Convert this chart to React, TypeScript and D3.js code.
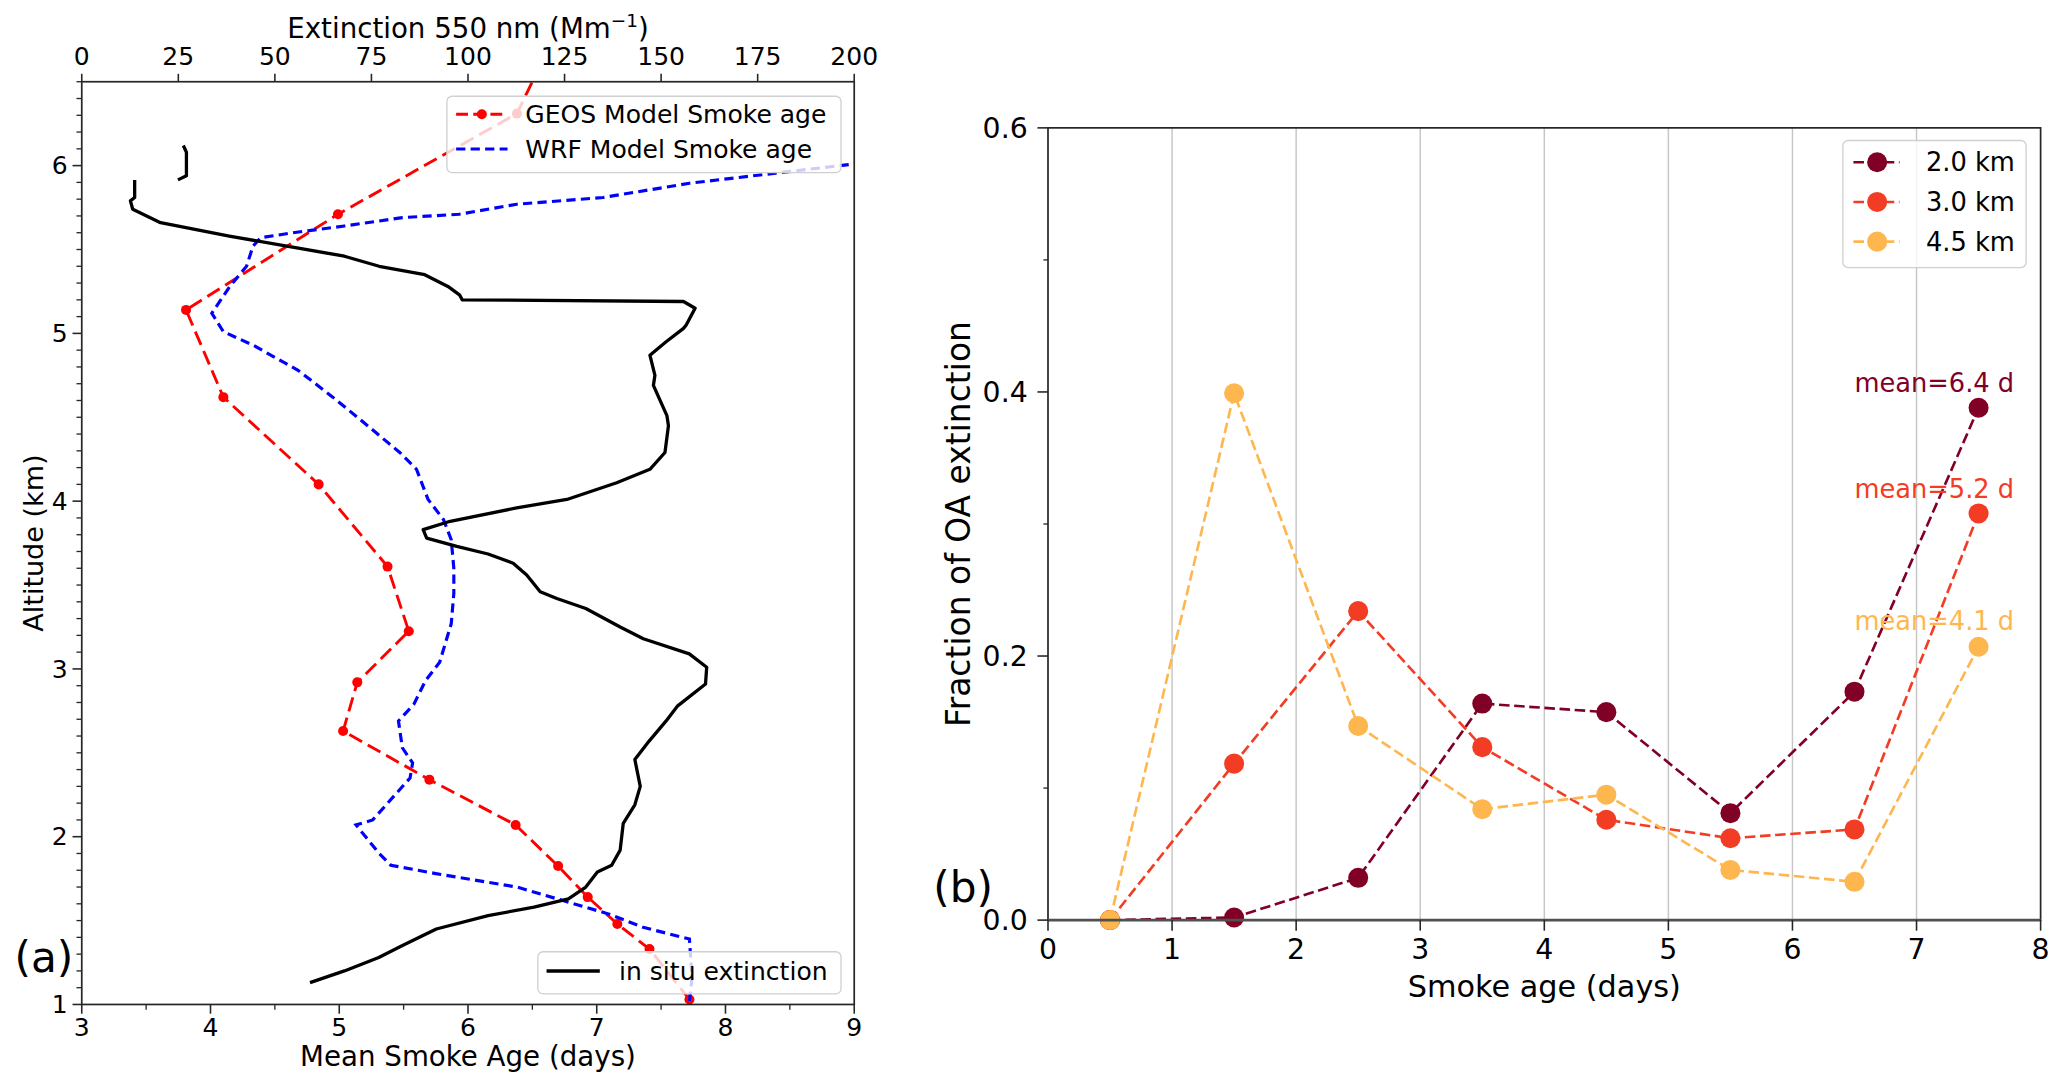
import React from "react";
import * as d3 from "d3";

// drawing units follow a 1568-wide copy of the figure, scaled up to 2067x1092
const W = 1568;
const H = 828.4;
const FONT = "DejaVu Sans, Verdana, sans-serif";

// ---- panel (a): vertical profiles ----
const geosAge = [7.72, 7.41, 7.16, 6.93, 6.7, 6.37, 5.7, 5.03, 5.14, 5.54, 5.375, 4.84, 4.1, 3.81, 4.99, 6.38, 6.75];
const geosAlt = [1.03, 1.33, 1.48, 1.64, 1.825, 2.07, 2.34, 2.63, 2.92, 3.225, 3.61, 4.1, 4.62, 5.14, 5.71, 6.31, 6.9];

const wrfAge = [9.4, 9.0, 8.39, 7.72, 7.05, 6.38, 5.93, 5.49, 5.04, 4.64, 4.39, 4.33, 4.28, 4.15, 4.01, 4.1, 4.33, 4.68, 4.95, 5.22, 5.47, 5.6, 5.69, 5.81, 5.87, 5.89, 5.89, 5.87, 5.78, 5.67, 5.58, 5.46, 5.49, 5.57, 5.55, 5.26, 5.13, 5.31, 5.4, 5.75, 6.38, 6.69, 7.09, 7.36, 7.72, 7.74, 7.72];
const wrfAlt = [6.07, 6.01, 5.955, 5.895, 5.81, 5.77, 5.71, 5.69, 5.64, 5.6, 5.57, 5.52, 5.4, 5.28, 5.12, 5.01, 4.93, 4.78, 4.62, 4.45, 4.29, 4.19, 4.01, 3.89, 3.77, 3.6, 3.45, 3.27, 3.04, 2.93, 2.79, 2.69, 2.53, 2.44, 2.35, 2.1, 2.07, 1.9, 1.83, 1.78, 1.7, 1.63, 1.54, 1.46, 1.39, 1.16, 1.02];

const insituExt = [13.7, 13.7, 12.6, 13.2, 20.4, 38.2, 53.1, 68, 77, 88.8, 94.8, 97.8, 98.5, 155.8, 158.8, 156.5, 155.8, 151.3, 147.1, 148.4, 148, 151.5, 151.9, 151, 147.1, 138.5, 125.6, 112.6, 95.4, 88.4, 89.3, 97.1, 105.2, 111.7, 115.2, 118.7, 123, 130.5, 139.4, 145.4, 157.3, 161.8, 161.5, 154.3, 151.3, 146.9, 143.2, 144.6, 143.2, 140.2, 139.4, 137.2, 133.5, 130.5, 126, 117.1, 105.2, 91.8, 82.9, 76.9, 68, 59.1];
const insituAlt = [5.915, 5.81, 5.79, 5.74, 5.66, 5.58, 5.52, 5.46, 5.4, 5.35, 5.28, 5.23, 5.2, 5.19, 5.15, 5.05, 5.03, 4.95, 4.87, 4.75, 4.69, 4.51, 4.45, 4.29, 4.19, 4.11, 4.01, 3.96, 3.88, 3.83, 3.78, 3.73, 3.685, 3.63, 3.56, 3.46, 3.42, 3.36, 3.25, 3.18, 3.09, 3.01, 2.91, 2.78, 2.69, 2.57, 2.46, 2.3, 2.19, 2.08, 1.92, 1.83, 1.79, 1.7, 1.63, 1.58, 1.53, 1.45, 1.35, 1.28, 1.2, 1.13];
const insituTopExt = [26.3, 27.1, 27.1, 24.9];
const insituTopAlt = [6.12, 6.08, 5.94, 5.915];

const ageTicksA = [3, 4, 5, 6, 7, 8, 9];
const extTicks = [0, 25, 50, 75, 100, 125, 150, 175, 200];
const altTicks = [1, 2, 3, 4, 5, 6];

// ---- panel (b): fraction of OA extinction vs smoke age ----
const smokeAge = [0.5, 1.5, 2.5, 3.5, 4.5, 5.5, 6.5, 7.5];
const levelNames = ["2.0 km", "3.0 km", "4.5 km"];
const levelColors = ["#800026", "#f33c24", "#feb74f"];
const frac2km = [0, 0.002, 0.032, 0.164, 0.1575, 0.081, 0.173, 0.388];
const frac3km = [0, 0.1185, 0.234, 0.131, 0.076, 0.062, 0.0687, 0.308];
const frac45km = [0, 0.399, 0.147, 0.084, 0.095, 0.038, 0.029, 0.207];
const meanLabels = ["mean=6.4 d", "mean=5.2 d", "mean=4.1 d"];
const meanLabelY = [0.4, 0.32, 0.22];
const ageTicksB = [0, 1, 2, 3, 4, 5, 6, 7, 8];
const fracTicks = [0, 0.2, 0.4, 0.6];

const A = { l: 62, r: 648, t: 62, b: 762 };
const B = { l: 795, r: 1548, t: 97, b: 698 };

const xAge = d3.scaleLinear().domain([3, 9]).range([A.l, A.r]);
const xExt = d3.scaleLinear().domain([0, 200]).range([A.l, A.r]);
const yAlt = d3.scaleLinear().domain([1, 6.5]).range([A.b, A.t]);
const xB = d3.scaleLinear().domain([0, 8]).range([B.l, B.r]);
const yB = d3.scaleLinear().domain([0, 0.6]).range([B.b, B.t]);

const zipPts = (xs: number[], ys: number[]) => xs.map((x, i) => [x, ys[i]] as [number, number]);

const lineA = d3.line<[number, number]>().x((d) => xAge(d[0])).y((d) => yAlt(d[1]));
const lineExt = d3.line<[number, number]>().x((d) => xExt(d[0])).y((d) => yAlt(d[1]));
const lineB = d3.line<[number, number]>().x((d) => xB(d[0])).y((d) => yB(d[1]));

const SPINE = "#262626";

const LeftPanel = () => {
  const geos = zipPts(geosAge, geosAlt);
  const minorAlt = d3.range(10, 66).map((v) => v / 10).filter((v) => !altTicks.includes(v));
  const minorAge = d3.range(3.5, 9, 1);
  return (
    <g fontFamily={FONT}>
      <defs>
        <clipPath id="clipA">
          <rect x={A.l} y={A.t} width={A.r - A.l} height={A.b - A.t} />
        </clipPath>
      </defs>
      <g clipPath="url(#clipA)">
        <path d={lineA(geos)!} fill="none" stroke="#ff0000" strokeWidth={2.2} strokeDasharray="11,5" />
        {geos.map((d, i) => (
          <circle key={i} cx={xAge(d[0])} cy={yAlt(d[1])} r={3.8} fill="#ff0000" />
        ))}
        <path d={lineA(zipPts(wrfAge, wrfAlt))!} fill="none" stroke="#0000ff" strokeWidth={2.4} strokeDasharray="7,4" />
      </g>
      {/* legend for the model curves */}
      <rect x={339} y={73} width={299} height={58} rx={4} fill="#fff" fillOpacity={0.8} stroke="#d0d0d0" />
      <line x1={346} x2={385} y1={86.7} y2={86.7} stroke="#ff0000" strokeWidth={2.2} strokeDasharray="9,4" />
      <circle cx={365.5} cy={86.7} r={3.8} fill="#ff0000" />
      <text x={398.5} y={86.7} dy="0.35em" fontSize={19}>GEOS Model Smoke age</text>
      <line x1={346} x2={385} y1={113} y2={113} stroke="#0000ff" strokeWidth={2.4} strokeDasharray="7,4" />
      <text x={398.5} y={113} dy="0.35em" fontSize={19}>WRF Model Smoke age</text>

      <g clipPath="url(#clipA)">
        <path d={lineExt(zipPts(insituExt, insituAlt))!} fill="none" stroke="#000" strokeWidth={2.5} strokeLinejoin="round" />
        <path d={lineExt(zipPts(insituTopExt, insituTopAlt))!} fill="none" stroke="#000" strokeWidth={2.5} strokeLinejoin="round" />
      </g>
      <rect x={408} y={722} width={230} height={32} rx={4} fill="#fff" fillOpacity={0.8} stroke="#d0d0d0" />
      <line x1={414.6} x2={455} y1={736.6} y2={736.6} stroke="#000" strokeWidth={2.5} />
      <text x={469.6} y={736.6} dy="0.35em" fontSize={19}>in situ extinction</text>

      {/* spines */}
      <rect x={A.l} y={A.t} width={A.r - A.l} height={A.b - A.t} fill="none" stroke={SPINE} strokeWidth={1.3} />

      {/* bottom axis */}
      {ageTicksA.map((t) => (
        <g key={t}>
          <line x1={xAge(t)} x2={xAge(t)} y1={A.b} y2={A.b + 7} stroke={SPINE} strokeWidth={1.2} />
          <text x={xAge(t)} y={785.8} textAnchor="middle" fontSize={19}>{t}</text>
        </g>
      ))}
      {minorAge.map((t) => (
        <line key={t} x1={xAge(t)} x2={xAge(t)} y1={A.b} y2={A.b + 4} stroke={SPINE} strokeWidth={1} />
      ))}
      <text x={(A.l + A.r) / 2} y={808.7} textAnchor="middle" fontSize={21}>Mean Smoke Age (days)</text>

      {/* top axis */}
      {extTicks.map((t) => (
        <g key={t}>
          <line x1={xExt(t)} x2={xExt(t)} y1={A.t} y2={A.t - 6} stroke={SPINE} strokeWidth={1.2} />
          <text x={xExt(t)} y={49.3} textAnchor="middle" fontSize={19}>{t}</text>
        </g>
      ))}
      <text x={(A.l + A.r) / 2} y={28.5} textAnchor="middle" fontSize={21}>
        Extinction 550 nm (Mm<tspan dy={-8} fontSize={14}>−1</tspan><tspan dy={8}>)</tspan>
      </text>

      {/* left axis */}
      {altTicks.map((t) => (
        <g key={t}>
          <line x1={A.l} x2={A.l - 7} y1={yAlt(t)} y2={yAlt(t)} stroke={SPINE} strokeWidth={1.2} />
          <text x={51.4} y={yAlt(t)} dy="0.35em" textAnchor="end" fontSize={19}>{t}</text>
        </g>
      ))}
      {minorAlt.map((t) => (
        <line key={t} x1={A.l} x2={A.l - 4} y1={yAlt(t)} y2={yAlt(t)} stroke={SPINE} strokeWidth={1} />
      ))}
      <text transform={`translate(32.5,${(A.t + A.b) / 2}) rotate(-90)`} textAnchor="middle" fontSize={20.5}>
        Altitude (km)
      </text>
      <text x={11} y={737} fontSize={32}>(a)</text>
    </g>
  );
};

const RightPanel = () => {
  const series = [frac2km, frac3km, frac45km];
  const minorFrac = [0.1, 0.3, 0.5];
  return (
    <g fontFamily={FONT}>
      {ageTicksB.slice(1, -1).map((t) => (
        <line key={t} x1={xB(t)} x2={xB(t)} y1={B.t} y2={B.b} stroke="#c6c6c6" strokeWidth={1.1} />
      ))}
      {series.map((vals, si) => {
        const pts = zipPts(smokeAge, vals);
        return (
          <g key={si}>
            <path d={lineB(pts)!} fill="none" stroke={levelColors[si]} strokeWidth={2} strokeDasharray="8,3.5" />
            {pts.map((d, i) => (
              <circle key={i} cx={xB(d[0])} cy={yB(d[1])} r={7.6} fill={levelColors[si]} />
            ))}
          </g>
        );
      })}
      {meanLabels.map((m, i) => (
        <text key={m} x={xB(6.5)} y={yB(meanLabelY[i])} fontSize={19.5} fill={levelColors[i]}>{m}</text>
      ))}

      {/* legend */}
      <rect x={1398} y={106.6} width={139} height={96.4} rx={4} fill="#fff" fillOpacity={0.8} stroke="#d0d0d0" />
      {levelNames.map((n, i) => {
        const ly = 123.1 + i * 30.1;
        return (
          <g key={n}>
            <line x1={1406} x2={1441} y1={ly} y2={ly} stroke={levelColors[i]} strokeWidth={2} strokeDasharray="8,3.5" />
            <circle cx={1424} cy={ly} r={7.6} fill={levelColors[i]} />
            <text x={1461} y={ly} dy="0.35em" fontSize={19.5}>{n}</text>
          </g>
        );
      })}

      {/* spines */}
      <rect x={B.l} y={B.t} width={B.r - B.l} height={B.b - B.t} fill="none" stroke={SPINE} strokeWidth={1.3} />
      <line x1={B.l} x2={B.r} y1={B.b} y2={B.b} stroke="#505050" strokeWidth={2.2} />

      {ageTicksB.map((t) => (
        <g key={t}>
          <line x1={xB(t)} x2={xB(t)} y1={B.b} y2={B.b + 8} stroke={SPINE} strokeWidth={1.2} />
          <text x={xB(t)} y={727.8} textAnchor="middle" fontSize={21.5}>{t}</text>
        </g>
      ))}
      <text x={(B.l + B.r) / 2} y={756} textAnchor="middle" fontSize={23}>Smoke age (days)</text>

      {fracTicks.map((t) => (
        <g key={t}>
          <line x1={B.l} x2={B.l - 8} y1={yB(t)} y2={yB(t)} stroke={SPINE} strokeWidth={1.2} />
          <text x={779.6} y={yB(t)} dy="0.35em" textAnchor="end" fontSize={21.5}>{t.toFixed(1)}</text>
        </g>
      ))}
      {minorFrac.map((t) => (
        <line key={t} x1={B.l} x2={B.l - 3.5} y1={yB(t)} y2={yB(t)} stroke={SPINE} strokeWidth={1} />
      ))}
      <text transform={`translate(736,${(B.t + B.b) / 2}) rotate(-90)`} textAnchor="middle" fontSize={25}>
        Fraction of OA extinction
      </text>
      <text x={708} y={684} fontSize={32}>(b)</text>
    </g>
  );
};

export default function App() {
  return (
    <>
      <style>{"body{margin:0;background:#fff}"}</style>
      <svg width={2067} height={1092} viewBox={`0 0 ${W} ${H}`} style={{ display: "block" }}>
        <rect width={W} height={H} fill="#fff" />
        <LeftPanel />
        <RightPanel />
      </svg>
    </>
  );
}
